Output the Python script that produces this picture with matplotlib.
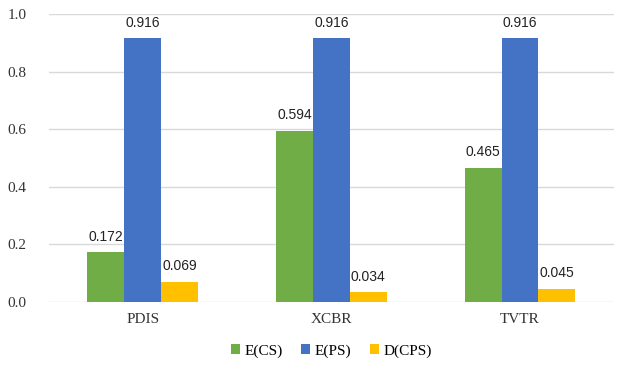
import matplotlib.pyplot as plt
import numpy as np

categories = ['PDIS', 'XCBR', 'TVTR']
e_cs = [0.172, 0.594, 0.465]
e_ps = [0.916, 0.916, 0.916]
d_cps = [0.069, 0.034, 0.045]

series = [('E(CS)', e_cs, '#70AD47'),
          ('E(PS)', e_ps, '#4472C4'),
          ('D(CPS)', d_cps, '#FFC000')]

fig = plt.figure(figsize=(6.18, 3.65), dpi=100)
ax = fig.add_axes([0.0785, 0.1726, 0.9155, 0.789])

x = np.arange(len(categories))
w = 0.196
for i, (name, vals, col) in enumerate(series):
    pos = x + (i - 1) * w
    ax.bar(pos, vals, w, color=col, label=name, zorder=3)
    for p, v in zip(pos, vals):
        ax.text(p, v + 0.03, f'{v:.3f}', ha='center', va='bottom',
                fontsize=10, family='Liberation Sans', color='#222222')

ax.set_xlim(-0.5, 2.5)
ax.set_ylim(0, 1.0)
ax.set_yticks(np.arange(0, 1.01, 0.2))
ax.set_yticklabels([f'{t:.1f}' for t in np.arange(0, 1.01, 0.2)],
                   family='Liberation Serif', fontsize=11, color='#333333')
ax.set_xticks(x)
ax.set_xticklabels(categories, family='Liberation Serif', fontsize=11, color='#333333')
ax.tick_params(length=0, pad=8)
ax.tick_params(axis='y', pad=16)
ax.grid(axis='y', color='#D9D9D9', linewidth=1, zorder=0)
for s in ax.spines.values():
    s.set_visible(False)

ax.legend(loc='center', bbox_to_anchor=(0.5, -0.17), ncol=3, frameon=False,
          handlelength=0.6, handleheight=0.6, handletextpad=0.3, columnspacing=1.2,
          prop={'family': 'Liberation Serif', 'size': 11})

fig.savefig('out.png')
